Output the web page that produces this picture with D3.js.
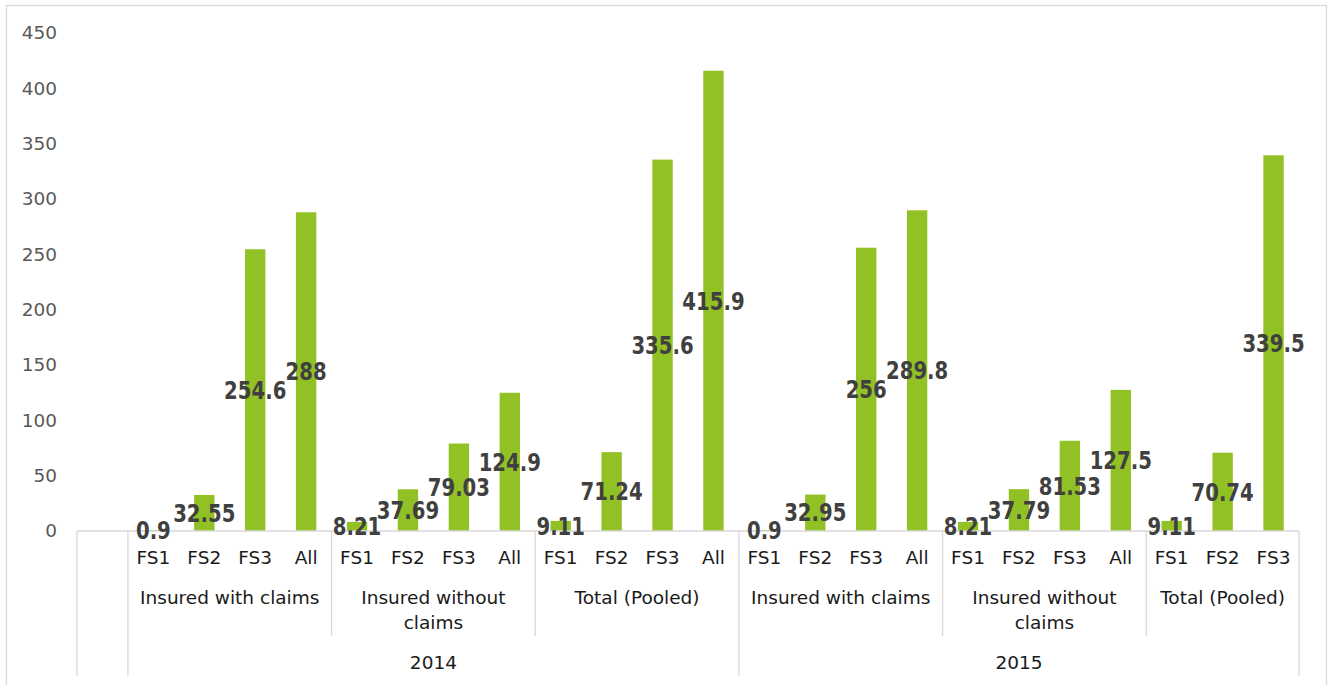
<!DOCTYPE html>
<html lang="en">
<head>
<meta charset="UTF-8">
<title>Claims by FS group</title>
<script src="https://d3js.org/d3.v7.min.js"></script>
<style>
  body { margin: 0; background: #fff; }
  .ytick { font: 18.5px "DejaVu Sans", sans-serif; fill: #595959; }
  .cat { font: 18.5px "DejaVu Sans", sans-serif; fill: #1a1a1a; }
  .val { font: bold 24px "DejaVu Sans", sans-serif; fill: #404040; }
  .bar { fill: #92c125; }
  .sep { stroke: #d9d9d9; stroke-width: 1.3; }
</style>
</head>
<body>
<script>
// chart data
var years = ["2014", "2015"];
var groups = ["Insured with claims", "Insured without claims", "Total (Pooled)"];
var subcats = ["FS1", "FS2", "FS3", "All"];
var values2014 = [
  [0.9, 32.55, 254.6, 288],
  [8.21, 37.69, 79.03, 124.9],
  [9.11, 71.24, 335.6, 415.9]
];
var values2015 = [
  [0.9, 32.95, 256, 289.8],
  [8.21, 37.79, 81.53, 127.5],
  [9.11, 70.74, 339.5]
];
var yTicks = [0, 50, 100, 150, 200, 250, 300, 350, 400, 450];

// flatten into rows (first slot is an empty category)
var rows = [{ key: "blank", label: "", value: null }];
[values2014, values2015].forEach(function(yv, yi) {
  yv.forEach(function(gv, gi) {
    gv.forEach(function(v, si) {
      rows.push({ key: years[yi] + "|" + gi + "|" + si, year: yi, group: gi, label: subcats[si], value: v });
    });
  });
});

var W = 1333, H = 685;
var plotLeft = 77, plotRight = 1299, base = 531, plotTop = 33;

var svg = d3.select("body").append("svg")
    .attr("width", W).attr("height", H);

// outer chart border
svg.append("rect")
    .attr("x", 6.5).attr("y", 5.5)
    .attr("width", 1320).attr("height", 700)
    .attr("fill", "none").attr("stroke", "#d9d9d9").attr("stroke-width", 1.3);

var x = d3.scaleBand()
    .domain(rows.map(function(d) { return d.key; }))
    .range([plotLeft, plotRight]);

var y = d3.scaleLinear().domain([0, 450]).range([base, plotTop]);

var step = x.step(), bw = step * 0.4;

// y tick labels
svg.selectAll(".ytick")
    .data(yTicks)
  .enter().append("text")
    .attr("class", "ytick")
    .attr("x", 57)
    .attr("y", function(d) { return y(d); })
    .attr("dy", "0.35em")
    .attr("text-anchor", "end")
    .text(function(d) { return d; });

// bars
var data = rows.filter(function(d) { return d.value !== null; });
svg.selectAll(".bar")
    .data(data)
  .enter().append("rect")
    .attr("class", "bar")
    .attr("x", function(d) { return x(d.key) + (step - bw) / 2; })
    .attr("y", function(d) { return y(d.value); })
    .attr("width", bw)
    .attr("height", function(d) { return base - y(d.value); });

// axis baseline
svg.append("line").attr("class", "sep")
    .attr("x1", plotLeft).attr("x2", plotRight)
    .attr("y1", base).attr("y2", base);

// sub-category labels
svg.selectAll(".sub")
    .data(data)
  .enter().append("text")
    .attr("class", "cat")
    .attr("x", function(d) { return x(d.key) + step / 2; })
    .attr("y", 558)
    .attr("dy", "0.35em")
    .attr("text-anchor", "middle")
    .text(function(d) { return d.label; });

// group & year spans
function span(filter) {
  var ks = data.filter(filter).map(function(d) { return d.key; });
  return [x(ks[0]), x(ks[ks.length - 1]) + step];
}

var groupSpans = [];
years.forEach(function(yr, yi) {
  groups.forEach(function(g, gi) {
    var s = span(function(d) { return d.year === yi && d.group === gi; });
    groupSpans.push({ name: g, x0: s[0], x1: s[1] });
  });
});
var yearSpans = years.map(function(yr, yi) {
  var s = span(function(d) { return d.year === yi; });
  return { name: yr, x0: s[0], x1: s[1] };
});

// separators
var longLines = [plotLeft, x(rows[1].key)];
yearSpans.forEach(function(s) { longLines.push(s.x1); });
svg.selectAll(".longsep")
    .data(longLines)
  .enter().append("line")
    .attr("class", "sep")
    .attr("x1", function(d) { return d; }).attr("x2", function(d) { return d; })
    .attr("y1", base).attr("y2", 676);

svg.selectAll(".shortsep")
    .data(groupSpans.filter(function(s) {
      return longLines.indexOf(s.x1) < 0;
    }))
  .enter().append("line")
    .attr("class", "sep")
    .attr("x1", function(d) { return d.x1; }).attr("x2", function(d) { return d.x1; })
    .attr("y1", base).attr("y2", 636);

// group labels (wrap long names)
groupSpans.forEach(function(s) {
  var lines = s.name === "Insured without claims" ? ["Insured without", "claims"] : [s.name];
  var t = svg.append("text")
      .attr("class", "cat")
      .attr("text-anchor", "middle");
  lines.forEach(function(l, i) {
    t.append("tspan")
      .attr("x", (s.x0 + s.x1) / 2)
      .attr("y", 598 + i * 24.5)
      .attr("dy", "0.35em")
      .text(l);
  });
});

// year labels
svg.selectAll(".yr")
    .data(yearSpans)
  .enter().append("text")
    .attr("class", "cat")
    .attr("x", function(d) { return (d.x0 + d.x1) / 2; })
    .attr("y", 663)
    .attr("dy", "0.35em")
    .attr("text-anchor", "middle")
    .text(function(d) { return d.name; });

// value labels at bar centre (narrowed bold face)
svg.selectAll(".val")
    .data(data)
  .enter().append("text")
    .attr("class", "val")
    .attr("transform", function(d) {
      return "translate(" + (x(d.key) + step / 2) + "," + y(d.value / 2) + ") scale(0.82,1)";
    })
    .attr("dy", "0.36em")
    .attr("text-anchor", "middle")
    .text(function(d) { return d.value; });
</script>
</body>
</html>
